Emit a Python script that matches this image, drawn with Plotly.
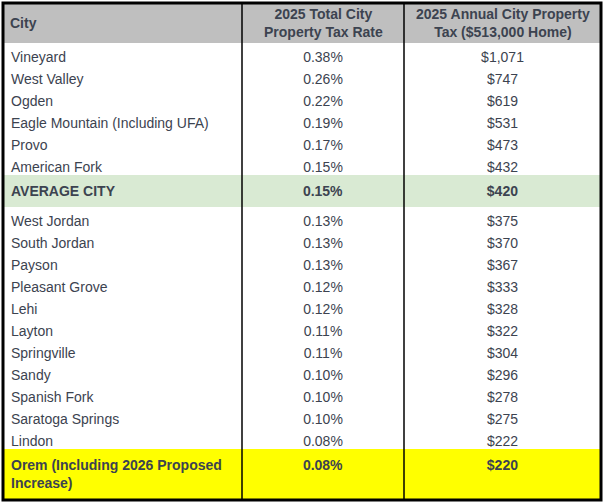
import plotly.graph_objects as go

cities = ["Vineyard", "West Valley", "Ogden", "Eagle Mountain (Including UFA)", "Provo",
          "American Fork", "AVERAGE CITY", "West Jordan", "South Jordan", "Payson",
          "Pleasant Grove", "Lehi", "Layton", "Springville", "Sandy", "Spanish Fork",
          "Saratoga Springs", "Lindon", "Orem (Including 2026 Proposed<br>Increase)"]
rates = ["0.38%", "0.26%", "0.22%", "0.19%", "0.17%", "0.15%", "0.15%", "0.13%", "0.13%",
         "0.13%", "0.12%", "0.12%", "0.11%", "0.11%", "0.10%", "0.10%", "0.10%", "0.08%", "0.08%"]
taxes = ["$1,071", "$747", "$619", "$531", "$473", "$432", "$420", "$375", "$370", "$367",
         "$333", "$328", "$322", "$304", "$296", "$278", "$275", "$222", "$220"]
headers = ["City", "2025 Total City<br>Property Tax Rate", "2025 Annual City Property<br>Tax ($513,000 Home)"]
highlight = {"AVERAGE CITY": "#d9ead3", "Orem (Including 2026 Proposed<br>Increase)": "#ffff00"}

fills = [highlight.get(c, "white") for c in cities]
bold = lambda col: [f"<b>{v}</b>" if cities[i] in highlight else v for i, v in enumerate(col)]
txt = "#3c4350"

col_w = [239, 162, 197]
edges = [3]
for w in col_w:
    edges.append(edges[-1] + w)

fig = go.Figure(go.Table(
    columnwidth=col_w,
    header=dict(values=["", "", ""], fill_color="#bfbfbf", line_width=0, height=40),
    cells=dict(values=[bold(cities), bold(rates), bold(taxes)],
               fill_color=[fills] * 3, line_width=0, height=22,
               align=["left", "center", "center"],
               font=dict(family="Liberation Sans", size=14, color=txt)),
    domain=dict(x=[3 / 604, 601 / 604], y=[0, 1]),
))

# header labels placed in the grey band
for i, h in enumerate(headers):
    left = i == 0
    fig.add_annotation(xref="paper", yref="paper",
                       x=(edges[i] + 5) / 604 if left else (edges[i] + edges[i + 1]) / 2 / 604,
                       xanchor="left" if left else "center",
                       y=1 - 20 / 497, yanchor="middle", showarrow=False,
                       text=f"<b>{h}</b>", align="center",
                       font=dict(family="Liberation Sans", size=14, color=txt))

# borders: outer frame and column separators
for x in edges[1:3]:
    fig.add_shape(type="line", xref="paper", yref="paper", x0=x / 604, x1=x / 604, y0=0, y1=1,
                  line=dict(color="black", width=1.5))
fig.add_shape(type="rect", xref="paper", yref="paper", x0=3 / 604, x1=601 / 604, y0=0, y1=1,
              line=dict(color="black", width=3))

fig.update_layout(width=604, height=503, margin=dict(l=0, r=0, t=3, b=3),
                  paper_bgcolor="white")
fig.write_html("out.html", config={"displayModeBar": False},
               post_script="document.body.style.margin='0';")
